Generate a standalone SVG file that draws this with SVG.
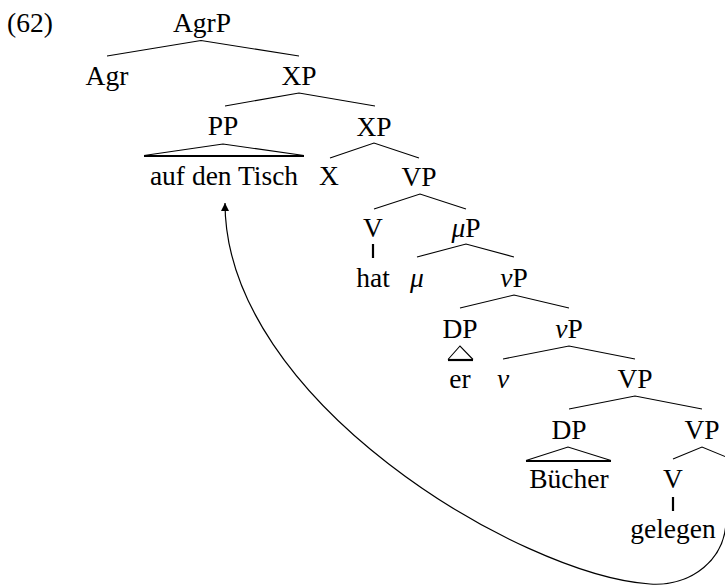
<svg xmlns="http://www.w3.org/2000/svg" width="725" height="585" viewBox="0 0 725 585">
<style>
text{font-family:"Liberation Serif","Times New Roman",serif;font-size:27.5px;fill:#000;text-anchor:middle}
.it{font-style:italic}
.e{stroke:#000;stroke-width:1.1;fill:none}
.b{stroke:#000;stroke-width:2.2;fill:none}
.mv{stroke:#000;stroke-width:1.2;fill:none}
</style>
<defs>
<marker id="ah" viewBox="0 0 10 10" refX="10" refY="5" markerWidth="11" markerHeight="8" markerUnits="userSpaceOnUse" orient="auto">
<path d="M0,0 L10,5 L0,10 z" fill="#000"/>
</marker>
</defs>
<rect width="725" height="585" fill="#fff"/>
<text x="30" y="32">(62)</text>
<g id="connectors">
<path class="e" d="M107,56 L201,40.5 L299,56"/>
<path class="e" d="M225,106 L299,93 L375,106"/>
<path class="e" d="M144,155.5 L223,144 L304,155.5"/>
<path class="b" d="M144,156 H304"/>
<path class="e" d="M330,158 L374,143 L419,158"/>
<path class="e" d="M374,209 L420,194 L466,209"/>
<path class="b" d="M373,244 V258"/>
<path class="e" d="M417,257 L466,244 L514,257"/>
<path class="e" d="M460,308 L514,295 L569,308"/>
<path class="e" d="M448,359.5 L460,346 L473,359.5"/>
<path class="b" d="M448,360 H473"/>
<path class="e" d="M503,359 L569,346 L635,359"/>
<path class="e" d="M569,409 L635,396 L702,409"/>
<path class="e" d="M526,460.5 L568,447 L611,460.5"/>
<path class="b" d="M526,461 H611"/>
<path class="e" d="M673,459 L702,447 L731,459"/>
<path class="b" d="M673,497 V511"/>
<path class="mv" marker-end="url(#ah)" d="M726,515 C728,560 690,586.8 650,584 C520,575 225,400 225,203"/>
</g>
<g id="AgrP"><text x="202" y="32">AgrP</text></g>
<g id="Agr"><text x="107" y="85">Agr</text></g>
<g id="XP1"><text x="299" y="85">XP</text></g>
<g id="PP"><text x="223" y="135">PP</text></g>
<g id="XP2"><text x="374" y="136">XP</text></g>
<g id="aufdenTisch"><text x="224" y="185">auf den Tisch</text></g>
<g id="X"><text x="329" y="185">X</text></g>
<g id="VP1"><text x="419" y="186">VP</text></g>
<g id="V1"><text x="373" y="237">V</text></g>
<g id="muP"><text x="466" y="237"><tspan class="it">μ</tspan>P</text></g>
<g id="hat"><text x="373" y="287">hat</text></g>
<g id="mu"><text x="417" y="287" class="it">μ</text></g>
<g id="vP1"><text x="514" y="287"><tspan class="it">ν</tspan>P</text></g>
<g id="DP1"><text x="460" y="338">DP</text></g>
<g id="vP2"><text x="569" y="338"><tspan class="it">ν</tspan>P</text></g>
<g id="er"><text x="460" y="388">er</text></g>
<g id="v"><text x="503" y="388" class="it">ν</text></g>
<g id="VP2"><text x="635" y="388">VP</text></g>
<g id="DP2"><text x="569" y="439">DP</text></g>
<g id="VP3"><text x="702" y="439">VP</text></g>
<g id="Buecher"><text x="569" y="488">Bücher</text></g>
<g id="V2"><text x="673" y="488">V</text></g>
<g id="gelegen"><text x="673" y="538">gelegen</text></g>
</svg>
